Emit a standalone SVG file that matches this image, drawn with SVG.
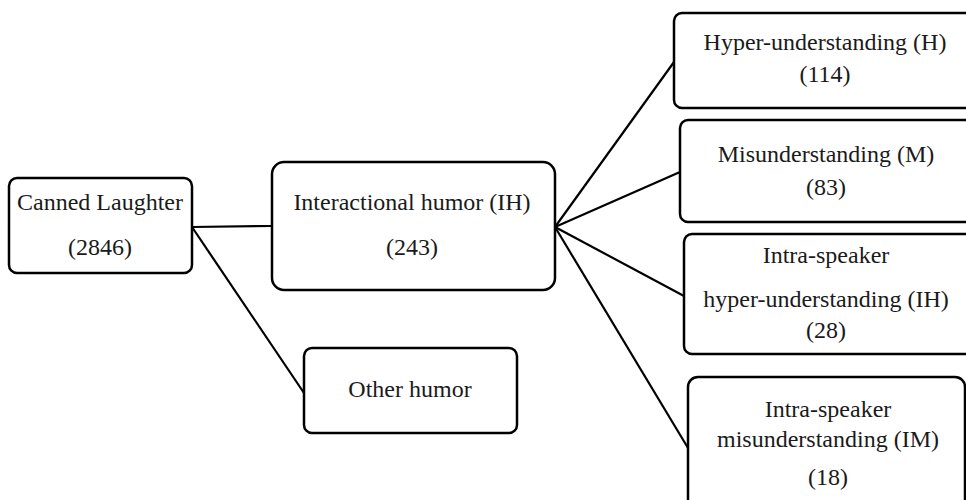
<svg xmlns="http://www.w3.org/2000/svg" width="966" height="500" viewBox="0 0 966 500">
<style>
.box{fill:#fff;stroke:#000;stroke-width:2.5}
.edge{stroke:#000;stroke-width:2.2;fill:none}
text{font-family:"Liberation Serif","DejaVu Serif",serif;font-size:24px;fill:#1a1a1a;text-anchor:middle}
</style>
<rect width="966" height="500" fill="#fff"/>
<g id="connectors">
<line class="edge" x1="192" y1="227" x2="272" y2="226"/>
<line class="edge" x1="192" y1="227" x2="304" y2="393"/>
<line class="edge" x1="555" y1="227" x2="674" y2="62"/>
<line class="edge" x1="555" y1="227" x2="680" y2="172"/>
<line class="edge" x1="555" y1="227" x2="684" y2="296"/>
<line class="edge" x1="555" y1="227" x2="688" y2="448"/>
</g>
<g id="canned">
<rect class="box" x="9" y="178" width="183" height="95" rx="8"/>
<text x="100" y="210">Canned Laughter</text>
<text x="100" y="255">(2846)</text>
</g>
<g id="interactional">
<rect class="box" x="272" y="162" width="283" height="128" rx="12"/>
<text x="412" y="210">Interactional humor (IH)</text>
<text x="412" y="255">(243)</text>
</g>
<g id="other">
<rect class="box" x="304" y="348" width="213" height="85" rx="8"/>
<text x="410" y="397">Other humor</text>
</g>
<g id="hyper">
<rect class="box" x="674" y="13" width="310" height="95" rx="8"/>
<text x="825" y="50">Hyper-understanding (H)</text>
<text x="825" y="82">(114)</text>
</g>
<g id="mis">
<rect class="box" x="680" y="120" width="310" height="102" rx="8"/>
<text x="826" y="162">Misunderstanding (M)</text>
<text x="826" y="195">(83)</text>
</g>
<g id="intra-hyper">
<rect class="box" x="684" y="234" width="310" height="120" rx="8"/>
<text x="826" y="263">Intra-speaker</text>
<text x="826" y="307">hyper-understanding (IH)</text>
<text x="826" y="338">(28)</text>
</g>
<g id="intra-mis">
<rect class="box" x="688" y="377" width="277" height="140" rx="10"/>
<text x="828" y="417">Intra-speaker</text>
<text x="828" y="447">misunderstanding (IM)</text>
<text x="828" y="485">(18)</text>
</g>
</svg>
